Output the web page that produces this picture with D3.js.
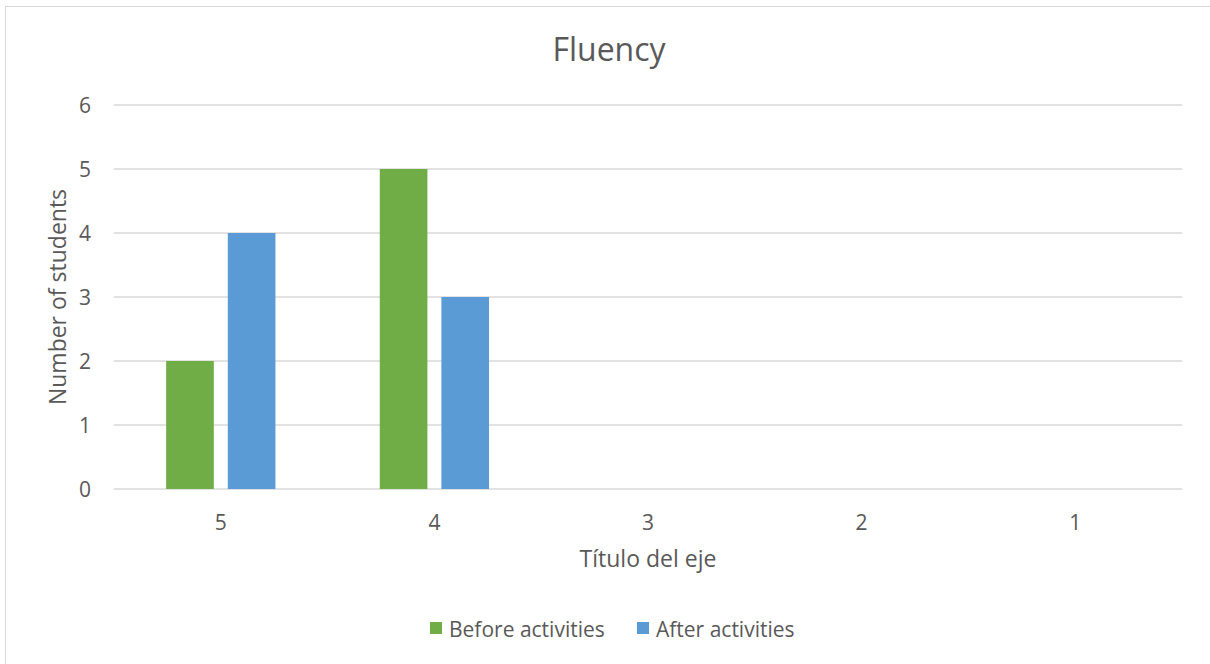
<!DOCTYPE html>
<html><head><meta charset="utf-8">
<script src="https://cdn.jsdelivr.net/npm/d3@7"></script>
<style>body{margin:0;background:#fff}svg{display:block}text{font-family:"Open Sans","Noto Sans",sans-serif;fill:#595959}</style>
</head><body><svg id="c" width="1210" height="664"></svg>
<script>
const categories = ["5","4","3","2","1"];
const seriesNames = ["Before activities","After activities"];
const before = [2,5,0,0,0];
const after = [4,3,0,0,0];
const colors = ["#70ad47","#5b9bd5"];
const yTicks = [0,1,2,3,4,5,6];

const svg = d3.select("#c");
svg.append("rect").attr("x",5.5).attr("y",6.5).attr("width",1210).attr("height",664).attr("fill","#fff").attr("stroke","#d9d9d9");

const L=114,R=1182,T=105,B=489;
const x = d3.scaleBand().domain(categories).range([L,R]).padding(0);
const y = d3.scaleLinear().domain([0,6]).range([B,T]);

const gY = svg.append("g");
yTicks.forEach(t=>{
  gY.append("line").attr("x1",L).attr("x2",R).attr("y1",y(t)).attr("y2",y(t)).attr("stroke","#d9d9d9").attr("stroke-width",1.3);
  gY.append("text").attr("x",91).attr("y",y(t)).attr("dy","0.36em").attr("text-anchor","end").attr("font-size",21).text(t);
});

const bw = x.bandwidth()*0.223, gap = x.bandwidth()*0.0655;
const data = categories.map((c,i)=>({c, v:[before[i],after[i]]}));
data.forEach(d=>{
  const cx = x(d.c)+x.bandwidth()/2;
  d.v.forEach((v,j)=>{
    if(v<=0) return;
    const left = j===0 ? cx - gap/2 - bw : cx + gap/2;
    svg.append("rect").attr("x",left).attr("y",y(v)).attr("width",bw).attr("height",y(0)-y(v)).attr("fill",colors[j]);
  });
  svg.append("text").attr("x",cx).attr("y",530).attr("text-anchor","middle").attr("font-size",21).text(d.c);
});

svg.append("text").attr("x",609).attr("y",61).attr("text-anchor","middle").attr("font-size",32).text("Fluency");
svg.append("text").attr("x",648).attr("y",567).attr("text-anchor","middle").attr("font-size",23).text("Título del eje");
svg.append("text").attr("transform","translate(66,297) rotate(-90)").attr("text-anchor","middle").attr("font-size",23).text("Number of students");

const lg = svg.append("g");
const items=[{n:seriesNames[0],c:colors[0],x:430},{n:seriesNames[1],c:colors[1],x:637}];
items.forEach(it=>{
  lg.append("rect").attr("x",it.x).attr("y",622).attr("width",12).attr("height",12).attr("fill",it.c);
  lg.append("text").attr("x",it.x+19).attr("y",637).attr("font-size",21).text(it.n);
});
</script></body></html>
